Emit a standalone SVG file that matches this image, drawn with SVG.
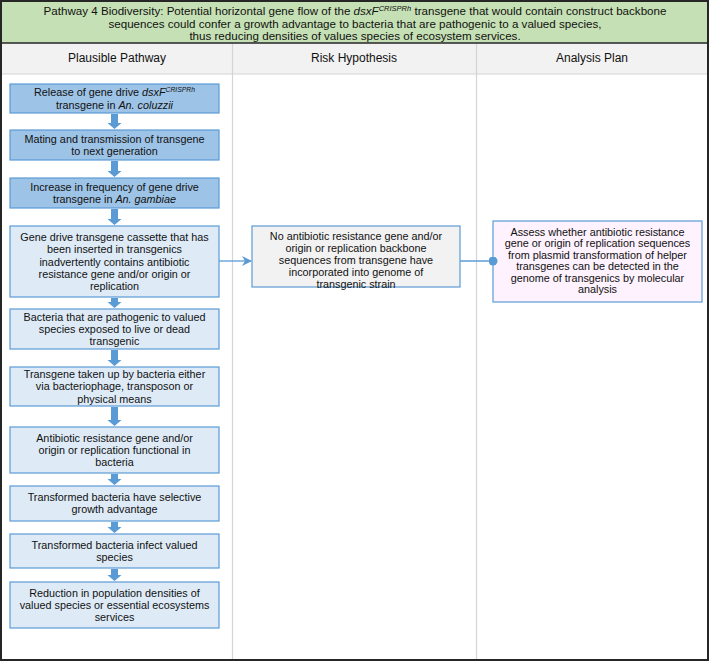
<svg xmlns="http://www.w3.org/2000/svg" width="710" height="662" viewBox="0 0 710 662">
<defs>
<style>
text{font-family:"Liberation Sans",Arial,sans-serif;fill:#111111;text-anchor:middle}
.t{font-size:11.6px}
.h{font-size:12px}
.b{font-size:10.8px}
.dark{fill:#9dc3e6;stroke:#5b9bd5;stroke-width:1.2}
.light{fill:#deebf7;stroke:#5b9bd5;stroke-width:1.2}
.grey{fill:#f2f2f2;stroke:#5b9bd5;stroke-width:1.2}
.pink{fill:#fdf2fd;stroke:#5b9bd5;stroke-width:1.2}
.blk{fill:#5b9bd5}
.div{stroke:#d4d4d4;stroke-width:1.2}
</style>
<marker id="chev" viewBox="0 0 10 10" refX="9" refY="5" markerWidth="10" markerHeight="10" markerUnits="userSpaceOnUse" orient="auto">
<path d="M0,0 L10,5 L0,10 L3,5 Z" fill="#5b9bd5"/>
</marker>
<marker id="dot" viewBox="0 0 10 10" refX="5" refY="5" markerWidth="9" markerHeight="9" markerUnits="userSpaceOnUse">
<circle cx="5" cy="5" r="5" fill="#5b9bd5"/>
</marker>
</defs>
<rect x="0" y="0" width="710" height="662" fill="#ffffff"/>
<g id="title">
<rect x="1" y="1" width="707" height="42" fill="#c5e0b4"/>
<text class="t" x="355" y="15">Pathway 4 Biodiversity: Potential horizontal gene flow of the <tspan font-style="italic">dsxF</tspan><tspan font-style="italic" font-size="7.5" dy="-4">CRISPRh</tspan><tspan dy="4"> transgene that would contain construct backbone</tspan></text>
<text class="t" x="355" y="27.5">sequences could confer a growth advantage to bacteria that are pathogenic to a valued species,</text>
<text class="t" x="355" y="40">thus reducing densities of values species  of ecosystem services.</text>
</g>
<g id="header">
<rect x="1" y="43" width="707" height="31" fill="#f2f2f2"/>
<line class="div" x1="1" y1="74" x2="708" y2="74"/>
<line class="div" x1="232.5" y1="43" x2="232.5" y2="660"/>
<line class="div" x1="476.5" y1="43" x2="476.5" y2="660"/>
<text class="h" x="117" y="62">Plausible Pathway</text>
<text class="h" x="354" y="62">Risk Hypothesis</text>
<text class="h" x="592" y="62">Analysis Plan</text>
</g>
<line x1="1" y1="43" x2="708" y2="43" stroke="#262626" stroke-width="1.5"/>
<rect x="1" y="1" width="707" height="659" fill="none" stroke="#262626" stroke-width="2"/>

<g id="n1"><rect class="dark" x="10" y="84" width="209" height="29"/>
<text class="b" x="114.5" y="96">Release of gene drive <tspan font-style="italic">dsxF</tspan><tspan font-style="italic" font-size="6.8" dy="-4">CRISPRh</tspan></text>
<text class="b" x="114.5" y="108.5">transgene in <tspan font-style="italic">An. coluzzii</tspan></text></g>
<g id="n2"><rect class="dark" x="10" y="130" width="209" height="30"/>
<text class="b" x="114.5" y="142.5">Mating and transmission of transgene</text>
<text class="b" x="114.5" y="155">to next generation</text></g>
<g id="n3"><rect class="dark" x="10" y="178" width="209" height="30"/>
<text class="b" x="114.5" y="190.5">Increase in frequency of gene drive</text>
<text class="b" x="114.5" y="203">transgene in <tspan font-style="italic">An. gambiae</tspan></text></g>
<g id="n4"><rect class="light" x="10" y="226" width="209" height="71"/>
<text class="b" x="114.5" y="241.2">Gene drive transgene cassette that has</text>
<text class="b" x="114.5" y="253.4">been inserted in transgenics</text>
<text class="b" x="114.5" y="265.6">inadvertently contains antibiotic</text>
<text class="b" x="114.5" y="277.8">resistance gene and/or origin or</text>
<text class="b" x="114.5" y="290">replication</text></g>
<g id="n5"><rect class="light" x="10" y="309" width="209" height="40"/>
<text class="b" x="114.5" y="320.7">Bacteria that are pathogenic to valued</text>
<text class="b" x="114.5" y="332.9">species exposed to live or dead</text>
<text class="b" x="114.5" y="345.1">transgenic</text></g>
<g id="n6"><rect class="light" x="10" y="367" width="209" height="39"/>
<text class="b" x="114.5" y="378.2">Transgene taken up by bacteria either</text>
<text class="b" x="114.5" y="390.4">via bacteriophage, transposon or</text>
<text class="b" x="114.5" y="402.6">physical means</text></g>
<g id="n7"><rect class="light" x="10" y="427" width="209" height="46"/>
<text class="b" x="114.5" y="441.7">Antibiotic resistance gene and/or</text>
<text class="b" x="114.5" y="453.9">origin or replication functional in</text>
<text class="b" x="114.5" y="466.1">bacteria</text></g>
<g id="n8"><rect class="light" x="10" y="486" width="209" height="35"/>
<text class="b" x="114.5" y="501.2">Transformed bacteria have selective</text>
<text class="b" x="114.5" y="513.4">growth advantage</text></g>
<g id="n9"><rect class="light" x="10" y="534" width="209" height="34"/>
<text class="b" x="114.5" y="548.7">Transformed bacteria infect valued</text>
<text class="b" x="114.5" y="560.9">species</text></g>
<g id="n10"><rect class="light" x="10" y="582" width="209" height="46"/>
<text class="b" x="114.5" y="596.7">Reduction in population densities of</text>
<text class="b" x="114.5" y="608.9">valued species or essential ecosystems</text>
<text class="b" x="114.5" y="621.1">services</text></g>

<g id="risk"><rect class="grey" x="252" y="226" width="208" height="61"/>
<text class="b" x="356" y="240.2">No antibiotic resistance gene and/or</text>
<text class="b" x="356" y="252.2">origin or replication backbone</text>
<text class="b" x="356" y="264.2">sequences from transgene have</text>
<text class="b" x="356" y="276.2">incorporated into genome of</text>
<text class="b" x="356" y="288.2">transgenic strain</text></g>
<g id="plan"><rect class="pink" x="493" y="221" width="209" height="81"/>
<text class="b" x="597.5" y="235.7">Assess whether antibiotic resistance</text>
<text class="b" x="597.5" y="247.2">gene or origin of replication sequences</text>
<text class="b" x="597.5" y="258.7">from plasmid transformation of helper</text>
<text class="b" x="597.5" y="270.2">transgenes can be detected in the</text>
<text class="b" x="597.5" y="281.7">genome of transgenics by molecular</text>
<text class="b" x="597.5" y="293.2">analysis</text></g>

<g id="connectors">
<path class="blk" d="M111,114 H118 V123 H121.5 L114.5,129 L107.5,123 H111 Z"/>
<path class="blk" d="M111,161 H118 V171 H121.5 L114.5,177 L107.5,171 H111 Z"/>
<path class="blk" d="M111,209 H118 V219 H121.5 L114.5,225 L107.5,219 H111 Z"/>
<path class="blk" d="M111,298 H118 V302 H121.5 L114.5,308 L107.5,302 H111 Z"/>
<path class="blk" d="M111,350 H118 V360 H121.5 L114.5,366 L107.5,360 H111 Z"/>
<path class="blk" d="M111,407 H118 V420 H121.5 L114.5,426 L107.5,420 H111 Z"/>
<path class="blk" d="M111,474 H118 V479 H121.5 L114.5,485 L107.5,479 H111 Z"/>
<path class="blk" d="M111,522 H118 V527 H121.5 L114.5,533 L107.5,527 H111 Z"/>
<path class="blk" d="M111,569 H118 V575 H121.5 L114.5,581 L107.5,575 H111 Z"/>
<line x1="219" y1="261" x2="251" y2="261" stroke="#5b9bd5" stroke-width="1.3" marker-end="url(#chev)"/>
<line x1="460" y1="261" x2="493" y2="261" stroke="#5b9bd5" stroke-width="1.3" marker-end="url(#dot)"/>
</g>
</svg>
